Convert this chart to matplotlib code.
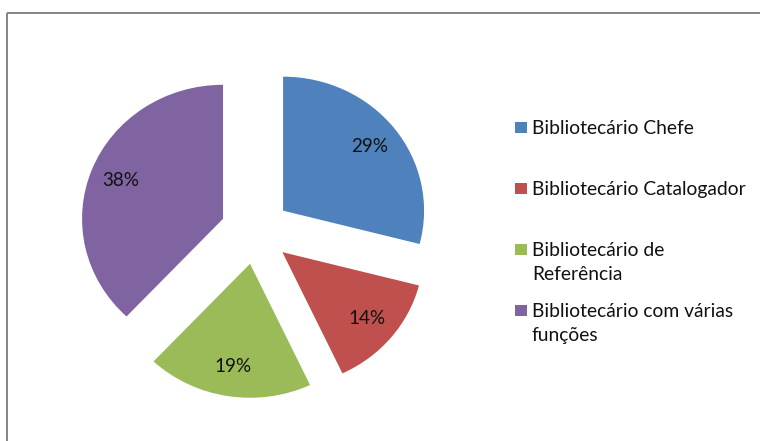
import matplotlib
matplotlib.use("Agg")
import matplotlib.pyplot as plt
from matplotlib.patches import Rectangle

# Data
categories = [
    "Bibliotecário Chefe",
    "Bibliotecário Catalogador",
    "Bibliotecário de\nReferência",
    "Bibliotecário com várias\nfunções",
]
shares = [29, 14, 19, 38]
colors = ["#4F81BD", "#C0504D", "#9BBB59", "#8064A2"]

FONT = ["Lato", "DejaVu Sans"]
plt.rcParams["font.family"] = FONT
TXT = "#111111"
FS_PCT = 13.6
FS_LEG = 13.9

W, H = 760, 441
fig = plt.figure(figsize=(W / 100, H / 100), dpi=100)
fig.patch.set_facecolor("white")

# Pie axes: centre at roughly (255, 231) px, radius ~141 px wide / 134 px tall
cx, cy, rx, ry = 255.5, 231.0, 141.0, 134.0
span = 1.5
left = (cx - span * rx) / W
bottom = (H - (cy + span * ry)) / H
ax = fig.add_axes([left, bottom, 2 * span * rx / W, 2 * span * ry / H])

wedges, texts, autotexts = ax.pie(
    shares,
    colors=colors,
    startangle=90,
    counterclock=False,
    explode=[0.2475] * len(shares),
    autopct=lambda p: f"{p:.0f}%",
    pctdistance=0.78,
    wedgeprops=dict(linewidth=0),
    textprops=dict(fontsize=FS_PCT, color=TXT, family=FONT),
)
ax.set_aspect("auto")
ax.set_xlim(-span, span)
ax.set_ylim(-span, span)
ax.axis("off")

# Overlay in pixel coordinates for the legend and the frame
ov = fig.add_axes([0, 0, 1, 1], facecolor="none")
ov.set_xlim(0, W)
ov.set_ylim(H, 0)
ov.axis("off")

# Chart frame (only the top and left edges fall inside the canvas)
ov.add_patch(Rectangle((6.5, 13.0), 900, 600, fill=False,
                       edgecolor="#858585", linewidth=1.4))

# Legend
first_y = 127.5
step = 61.0
line_gap = 24.0
for i, (lab, col) in enumerate(zip(categories, colors)):
    yc = first_y + i * step
    ov.add_patch(Rectangle((515, yc - 5.5), 12, 11, facecolor=col,
                           edgecolor="none"))
    for j, line in enumerate(lab.split("\n")):
        ov.text(532, yc + 6.5 + j * line_gap, line, fontsize=FS_LEG,
                color=TXT, va="baseline", ha="left", family=FONT)

fig.savefig("out.png", dpi=100)
